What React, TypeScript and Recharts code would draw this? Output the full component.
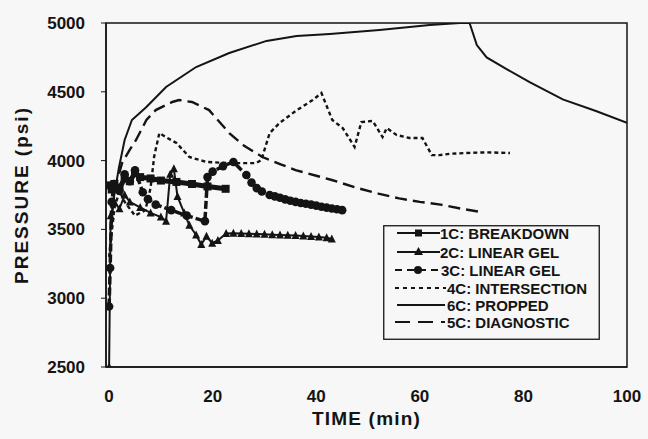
import React from "react";
import { LineChart, Line, XAxis, YAxis, Legend, ReferenceArea } from "recharts";

const FONT = '"Liberation Sans", Arial, sans-serif';
const INK = "#141414";
const PAPER = "#f6f7f6";

const xTicks = [0, 20, 40, 60, 80, 100];
const yTicks = [2500, 3000, 3500, 4000, 4500, 5000];

// 1C: BREAKDOWN
const t1C = [0, 0.5, 1, 2, 3, 4, 5, 6, 8, 10, 13, 16, 19, 22.5];
const p1C = [3820, 3790, 3830, 3800, 3870, 3850, 3910, 3880, 3870, 3855, 3845, 3830, 3812, 3795];

// 2C: LINEAR GEL
const t2C = [0, 0.3, 1, 2, 3, 4, 6, 8, 10, 11, 11.8, 12.5, 13.2, 14.5, 15.5, 16.8, 17.8, 18.8, 19.9, 21, 22.6, 24, 25.5, 27, 28.5, 30, 31.5, 33, 34.5, 36, 37.5, 39, 40.5, 42, 43];
const p2C = [2500, 3600, 3700, 3650, 3750, 3700, 3660, 3620, 3590, 3560, 3900, 3940, 3740, 3620, 3530, 3460, 3390, 3450, 3400, 3420, 3470, 3472, 3470, 3468, 3466, 3464, 3462, 3460, 3457, 3455, 3452, 3448, 3445, 3440, 3430];

// 3C: LINEAR GEL
const t3C = [0, 0.2, 0.5, 1, 2, 3, 4, 5, 6.5, 7.5, 9, 12, 15, 18.5, 19, 20, 22, 24, 26.5, 27.5, 28.5, 29.5, 31, 32, 33, 34, 35, 36, 37, 38, 39, 40, 41, 42, 43, 44, 45];
const p3C = [2940, 3220, 3700, 3830, 3780, 3900, 3850, 3930, 3770, 3720, 3680, 3640, 3600, 3560, 3880, 3920, 3960, 3990, 3895, 3840, 3800, 3775, 3750, 3740, 3730, 3718, 3708, 3700, 3692, 3686, 3680, 3673, 3665, 3658, 3652, 3646, 3640];

// 4C: INTERSECTION
const t4C = [0, 1, 2, 3, 5, 7, 8, 8.7, 9.7, 11, 13, 15.5, 18.8, 23.2, 28.4, 29.4, 31, 32.9, 36, 39.3, 41, 43.1, 45.1, 47.4, 48.7, 50.9, 52.8, 53.6, 55.5, 58, 60.5, 62.3, 63.8, 66, 69, 73, 77.4];
const p4C = [3300, 3650, 3780, 3700, 3600, 3640, 3800, 4030, 4200, 4170, 4128, 4026, 3990, 3982, 3982, 4004, 4200, 4273, 4360, 4440, 4491, 4295, 4237, 4099, 4280, 4288, 4171, 4237, 4186, 4164, 4164, 4040, 4040, 4050, 4055, 4060, 4055];

// 6C: PROPPED
const t6C = [0.3, 1, 1.9, 3, 4.4, 7.2, 11, 16.8, 23.2, 30.4, 36.2, 42.6, 52.2, 61.9, 67.7, 69.6, 71, 72.9, 77, 81.2, 87.6, 94, 100];
const p6C = [3500, 3750, 3950, 4150, 4295, 4389, 4535, 4680, 4782, 4870, 4905, 4920, 4950, 4985, 5000, 5000, 4840, 4750, 4660, 4570, 4445, 4360, 4275];

// 5C: DIAGNOSTIC
const t5C = [0.5, 1.5, 2.5, 4, 5.2, 7.2, 9, 12.2, 13.5, 16, 19.3, 23.2, 26, 29.6, 33, 36, 40, 43, 48, 52, 56, 60, 64, 68, 72];
const p5C = [3650, 3850, 3982, 4080, 4150, 4295, 4367, 4426, 4440, 4426, 4367, 4200, 4110, 4026, 3975, 3931, 3890, 3859, 3800, 3760, 3725, 3700, 3680, 3650, 3625];

const pts = (t: number[], p: number[]) => t.map((x, i) => ({ t: x, p: p[i] }));

const Square = (props: any) => {
  const { cx, cy, index } = props;
  if (cx == null || cy == null) return <g key={`s${index}`} />;
  return <rect key={`s${index}`} x={cx - 4} y={cy - 4} width={8} height={8} fill={INK} />;
};

const Triangle = (props: any) => {
  const { cx, cy, index } = props;
  if (cx == null || cy == null) return <g key={`t${index}`} />;
  return <polygon key={`t${index}`} points={`${cx},${cy - 4.5} ${cx - 4},${cy + 3.5} ${cx + 4},${cy + 3.5}`} fill={INK} />;
};

const Circle = (props: any) => {
  const { cx, cy, index } = props;
  if (cx == null || cy == null) return <g key={`c${index}`} />;
  return <circle key={`c${index}`} cx={cx} cy={cy} r={4.3} fill={INK} />;
};

const series = [
  { id: "1C", name: "1C: BREAKDOWN", data: pts(t1C, p1C), width: 5, dash: undefined, marker: "square" },
  { id: "2C", name: "2C: LINEAR GEL", data: pts(t2C, p2C), width: 2, dash: undefined, marker: "triangle" },
  { id: "3C", name: "3C: LINEAR GEL", data: pts(t3C, p3C), width: 3.5, dash: "8 3", marker: "circle" },
  { id: "4C", name: "4C: INTERSECTION", data: pts(t4C, p4C), width: 2.4, dash: "4 3", marker: "" },
  { id: "6C", name: "6C: PROPPED", data: pts(t6C, p6C), width: 2, dash: undefined, marker: "" },
  { id: "5C", name: "5C: DIAGNOSTIC", data: pts(t5C, p5C), width: 2.4, dash: "12 6", marker: "" },
];

const dotFor = (m: string) => (m === "square" ? Square : m === "triangle" ? Triangle : m === "circle" ? Circle : false);

const legendRows = [
  { id: "1C", y: 8, x1: 14, x2: 57, tx: 57, dash: undefined },
  { id: "2C", y: 27, x1: 14, x2: 57, tx: 57, dash: undefined },
  { id: "3C", y: 45, x1: 12, x2: 58, tx: 58, dash: "7 5" },
  { id: "4C", y: 63, x1: 12, x2: 63, tx: 64, dash: "4 4" },
  { id: "6C", y: 80, x1: 14, x2: 62, tx: 64, dash: undefined },
  { id: "5C", y: 97, x1: 12, x2: 62, tx: 64, dash: "15 8" },
];

const renderLegend = () => (
  <svg width={217} height={115} style={{ display: "block" }}>
    <rect x={0.75} y={0.75} width={215.5} height={113.5} fill="none" stroke={INK} strokeWidth={1.3} />
    {legendRows.map((r) => {
      const s = series.find((x) => x.id === r.id)!;
      const mx = (r.x1 + r.x2) / 2;
      return (
        <g key={r.id}>
          <line x1={r.x1} y1={r.y} x2={r.x2} y2={r.y} stroke={INK} strokeWidth={2} strokeDasharray={r.dash} />
          {s.marker === "square" && <rect x={mx - 3.5} y={r.y - 3.5} width={7} height={7} fill={INK} />}
          {s.marker === "triangle" && <polygon points={`${mx},${r.y - 5} ${mx - 4.5},${r.y + 3} ${mx + 4.5},${r.y + 3}`} fill={INK} />}
          {s.marker === "circle" && <circle cx={mx} cy={r.y} r={4} fill={INK} />}
          <text x={r.tx} y={r.y + 5.5} fill={INK} fontFamily={FONT} fontWeight={700} fontSize={15}>
            {s.name}
          </text>
        </g>
      );
    })}
  </svg>
);

export default function App() {
  return (
    <div style={{ position: "absolute", left: 0, top: 0, width: 648, height: 439, background: PAPER }}>
      <LineChart width={648} height={439} margin={{ top: 23, right: 21, bottom: 0, left: 0 }}>
        <ReferenceArea x1={-0.6} x2={100} y1={2500} y2={5000} fill="none" stroke={INK} strokeWidth={1.5} ifOverflow="visible" />
        <XAxis
          dataKey="t"
          type="number"
          domain={[-0.6, 100]}
          ticks={xTicks}
          allowDataOverflow
          height={72}
          tickLine={false}
          tickSize={6}
          tickMargin={17}
          axisLine={{ stroke: INK, strokeWidth: 1.5 }}
          tick={{ fill: INK, fontSize: 17, fontWeight: 700, fontFamily: FONT }}
          label={{ value: "TIME (min)", position: "insideBottom", offset: 14, fill: INK, fontSize: 19, fontWeight: 700, fontFamily: FONT, style: { letterSpacing: 1.2 } }}
        />
        <YAxis
          type="number"
          domain={[2500, 5000]}
          ticks={yTicks}
          allowDataOverflow
          width={106}
          tickSize={5}
          tickMargin={16}
          tickLine={{ stroke: INK }}
          axisLine={{ stroke: INK, strokeWidth: 1.5 }}
          tick={{ fill: INK, fontSize: 17, fontWeight: 700, fontFamily: FONT }}
          label={{
            value: "PRESSURE (psi)",
            angle: -90,
            position: "insideLeft",
            offset: 21,
            fill: INK,
            fontSize: 19,
            fontWeight: 700,
            fontFamily: FONT,
            style: { textAnchor: "middle", letterSpacing: 2 },
          }}
        />
        <Legend layout="vertical" align="center" verticalAlign="middle" wrapperStyle={{ left: 383, top: 225, width: 217, height: 115 }} content={renderLegend} />
        {series.map((s) => (
          <Line
            key={s.id}
            data={s.data}
            dataKey="p"
            name={s.name}
            type="linear"
            stroke={INK}
            strokeWidth={s.width}
            strokeDasharray={s.dash}
            dot={dotFor(s.marker) as any}
            activeDot={false}
            legendType="none"
            isAnimationActive={false}
          />
        ))}
      </LineChart>
    </div>
  );
}
